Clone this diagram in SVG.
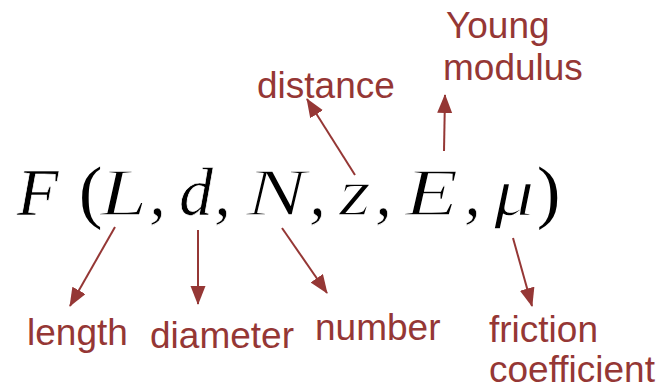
<svg xmlns="http://www.w3.org/2000/svg" width="665" height="389" viewBox="0 0 665 389">
<style>
.lbl{font-family:"Liberation Sans",Arial,sans-serif;font-size:37px;fill:#953735}
.m{font-family:"Liberation Serif","Times New Roman",serif;font-style:italic;font-size:68px;fill:#000;stroke:#fff;stroke-width:0.7}
.s{stroke-width:1.3}
.u{font-family:"Liberation Serif","Times New Roman",serif;font-size:70px;fill:#000}
.arr{stroke:#953735;stroke-width:2;fill:none;marker-end:url(#ah)}
</style>
<defs>
<marker id="ah" markerUnits="userSpaceOnUse" markerWidth="20" markerHeight="16" refX="18" refY="7.5" orient="auto">
<path d="M0,0 L19,7.5 L0,15 Z" fill="#953735"/>
</marker>
</defs>
<rect width="665" height="389" fill="#fff"/>
<g id="formula">
<text class="m" x="17" y="215">F</text>
<text class="u" x="79" y="215">(</text>
<text class="m s" transform="translate(100,215) scale(1.25,1)">L</text>
<text class="m" x="149" y="215">,</text>
<text class="m" x="179" y="215">d</text>
<text class="m" x="214" y="215">,</text>
<text class="m s" transform="translate(246,215) scale(1.33,1)">N</text>
<text class="m" x="309" y="215">,</text>
<text class="m s" transform="translate(339,215) scale(1.2,1)">z</text>
<text class="m" x="375" y="215">,</text>
<text class="m s" transform="translate(405,215) scale(1.28,1)">E</text>
<text class="m" x="464" y="215">,</text>
<text class="m s" transform="translate(494,215) scale(1.18,1)">μ</text>
<text class="u" x="537" y="215">)</text>
</g>
<g id="connectors">
<line class="arr" x1="355" y1="175" x2="307" y2="99"/>
<line class="arr" x1="444" y1="151" x2="445" y2="95"/>
<line class="arr" x1="115" y1="227" x2="70" y2="306"/>
<line class="arr" x1="198" y1="230" x2="198" y2="304"/>
<line class="arr" x1="282" y1="228" x2="327" y2="293"/>
<line class="arr" x1="513" y1="238" x2="532" y2="306"/>
</g>
<g id="distance"><text class="lbl" x="257" y="98">distance</text></g>
<g id="young"><text class="lbl" x="446" y="38">Young</text><text class="lbl" x="443" y="80">modulus</text></g>
<g id="length"><text class="lbl" x="27" y="345">length</text></g>
<g id="diameter"><text class="lbl" x="150" y="348">diameter</text></g>
<g id="number"><text class="lbl" x="315" y="340">number</text></g>
<g id="friction"><text class="lbl" x="489" y="342">friction</text><text class="lbl" x="489" y="382">coefficient</text></g>
</svg>
